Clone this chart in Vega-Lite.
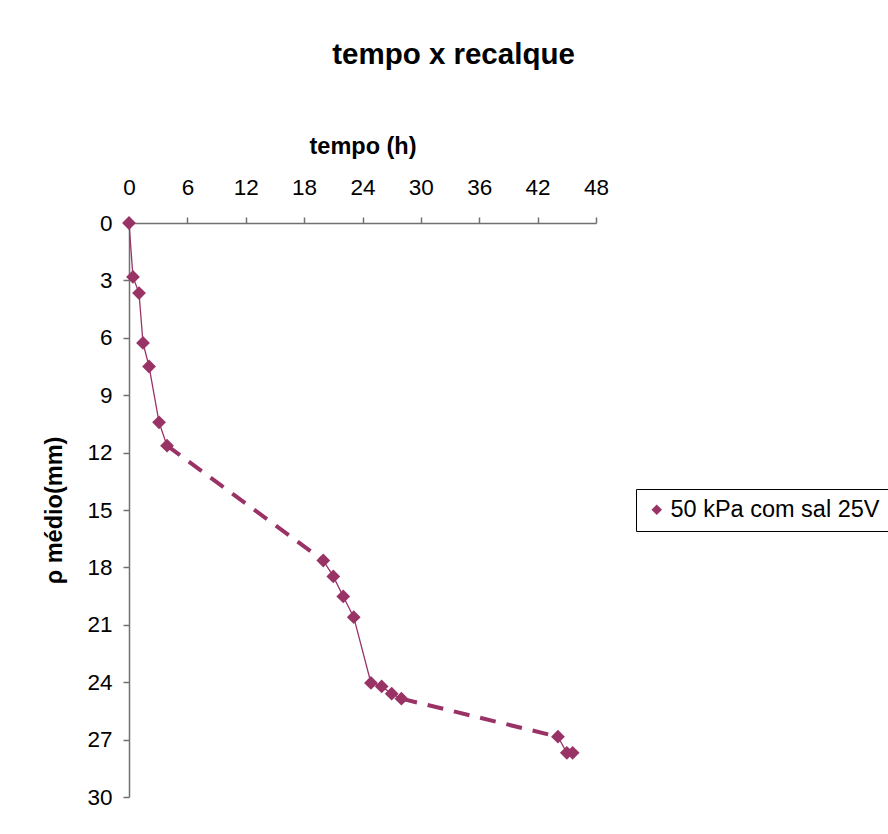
{
  "$schema": "https://vega.github.io/schema/vega-lite/v6.json",
  "autosize": "none",
  "width": 467,
  "height": 574,
  "padding": {"left": 129, "top": 223, "right": 292, "bottom": 37},
  "background": "white",
  "title": {
    "text": "tempo x recalque",
    "font": "Liberation Sans",
    "fontSize": 29.5,
    "fontWeight": "bold",
    "color": "black",
    "anchor": "middle",
    "frame": "group",
    "dx": 91,
    "offset": 64
  },
  "config": {
    "view": {"stroke": null},
    "font": "Liberation Sans",
    "axis": {
      "grid": false,
      "domainColor": "#707070",
      "domainWidth": 1.5,
      "tickColor": "#707070",
      "tickWidth": 1.5,
      "tickSize": 6,
      "labelFont": "Liberation Sans",
      "labelFontSize": 22.5,
      "labelColor": "black",
      "titleFont": "Liberation Sans",
      "titleFontSize": 23.5,
      "titleFontWeight": "bold",
      "titleColor": "black"
    }
  },
  "datasets": {
    "pts": [
      {"t": 0, "rho": 0, "grp": "a", "serie": "50 kPa com sal 25V"},
      {"t": 0.41, "rho": 2.82, "grp": "a", "serie": "50 kPa com sal 25V"},
      {"t": 1.03, "rho": 3.66, "grp": "a", "serie": "50 kPa com sal 25V"},
      {"t": 1.44, "rho": 6.27, "grp": "a", "serie": "50 kPa com sal 25V"},
      {"t": 2.06, "rho": 7.5, "grp": "a", "serie": "50 kPa com sal 25V"},
      {"t": 3.09, "rho": 10.42, "grp": "a", "serie": "50 kPa com sal 25V"},
      {"t": 3.91, "rho": 11.64, "grp": "a", "serie": "50 kPa com sal 25V"},
      {"t": 19.97, "rho": 17.64, "grp": "b", "serie": "50 kPa com sal 25V"},
      {"t": 21.0, "rho": 18.47, "grp": "b", "serie": "50 kPa com sal 25V"},
      {"t": 22.02, "rho": 19.52, "grp": "b", "serie": "50 kPa com sal 25V"},
      {"t": 23.1, "rho": 20.6, "grp": "b", "serie": "50 kPa com sal 25V"},
      {"t": 24.87, "rho": 24.04, "grp": "b", "serie": "50 kPa com sal 25V"},
      {"t": 25.97, "rho": 24.22, "grp": "b", "serie": "50 kPa com sal 25V"},
      {"t": 27.0, "rho": 24.6, "grp": "b", "serie": "50 kPa com sal 25V"},
      {"t": 28.0, "rho": 24.86, "grp": "b", "serie": "50 kPa com sal 25V"},
      {"t": 44.09, "rho": 26.85, "grp": "c", "serie": "50 kPa com sal 25V"},
      {"t": 45.0, "rho": 27.69, "grp": "c", "serie": "50 kPa com sal 25V"},
      {"t": 45.6, "rho": 27.69, "grp": "c", "serie": "50 kPa com sal 25V"}
    ],
    "gaps": [
      {"t": 3.91, "rho": 11.64, "seg": "g1"},
      {"t": 19.97, "rho": 17.64, "seg": "g1"},
      {"t": 28.0, "rho": 24.86, "seg": "g2"},
      {"t": 44.09, "rho": 26.85, "seg": "g2"}
    ]
  },
  "encoding": {
    "x": {
      "field": "t",
      "type": "quantitative",
      "scale": {"domain": [0, 48], "nice": false, "zero": false},
      "axis": {
        "orient": "top",
        "title": "tempo (h)",
        "values": [0, 6, 12, 18, 24, 30, 36, 42, 48],
        "labelPadding": 23,
        "labelBaseline": "alphabetic",
        "titlePadding": 18,
        "labelFlush": false
      }
    },
    "y": {
      "field": "rho",
      "type": "quantitative",
      "scale": {"domain": [0, 30], "nice": false, "zero": false, "reverse": true},
      "axis": {
        "orient": "left",
        "title": "ρ médio(mm)",
        "values": [0, 3, 6, 9, 12, 15, 18, 21, 24, 27, 30],
        "labelPadding": 11,
        "titlePadding": 20,
        "labelFlush": false
      }
    }
  },
  "layer": [
    {
      "data": {"name": "gaps"},
      "mark": {"type": "line", "color": "#993366", "strokeWidth": 4, "strokeDash": [16, 11]},
      "encoding": {"detail": {"field": "seg", "type": "nominal"}}
    },
    {
      "data": {"name": "pts"},
      "mark": {"type": "line", "color": "#993366", "strokeWidth": 1.3},
      "encoding": {"detail": {"field": "grp", "type": "nominal"}}
    },
    {
      "data": {"name": "pts"},
      "mark": {"type": "point", "shape": "diamond", "filled": true, "size": 190, "opacity": 1},
      "encoding": {
        "color": {
          "field": "serie",
          "type": "nominal",
          "scale": {"range": ["#993366"]},
          "legend": {
            "title": null,
            "orient": "none",
            "legendX": 507,
            "legendY": 266,
            "strokeColor": "black",
            "fillColor": "white",
            "padding": 9,
            "symbolType": "diamond",
            "symbolSize": 110,
            "labelOffset": 2,
            "labelFont": "Liberation Sans",
            "labelFontSize": 23.5,
            "labelColor": "black",
            "labelLimit": 400
          }
        }
      }
    }
  ]
}
